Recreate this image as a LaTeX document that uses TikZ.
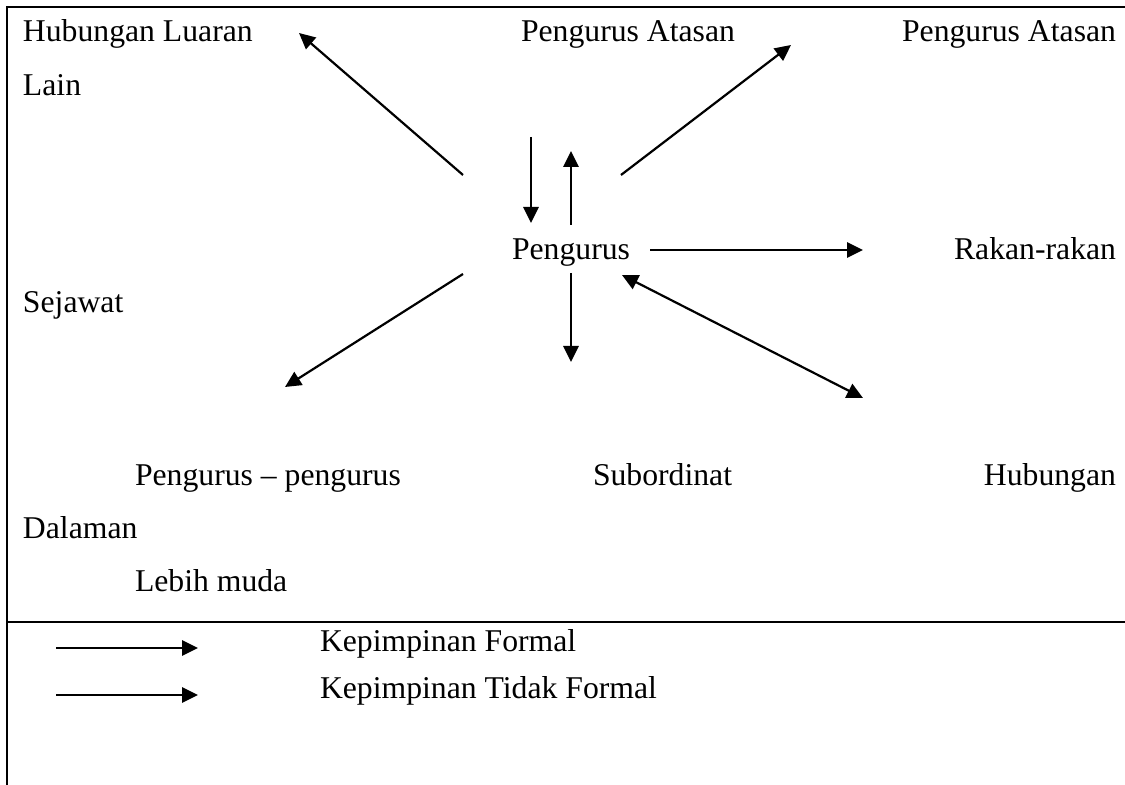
\documentclass[tikz,border=0pt]{standalone}
\usepackage{fontspec}
\setmainfont{Liberation Serif}
\usetikzlibrary{arrows.meta}
\tikzset{
  lbl/.style={anchor=base west, inner sep=0pt, outer sep=0pt, font=\fontsize{15.85}{19}\selectfont},
  lblr/.style={anchor=base east, inner sep=0pt, outer sep=0pt, font=\fontsize{15.85}{19}\selectfont},
  frame/.style={line width=1pt},
  arr/.style={line width=1.1pt, -{Triangle[length=8pt,width=7.6pt]}},
  darr/.style={line width=1.1pt, {Triangle[length=8pt,width=7.6pt]}-{Triangle[length=8pt,width=7.6pt]}}
}
\begin{document}
\begin{tikzpicture}[x=0.5pt,y=-0.5pt]
\useasboundingbox (0,0) rectangle (1125,785);
% frame
\coordinate (tl) at (7,7);
\coordinate (tr) at (1125,7);
\coordinate (bl) at (7,785);
\coordinate (ml) at (7,622);
\coordinate (mr) at (1125,622);
\draw[frame] (tr) -- (tl) -- (bl);
\draw[frame] (ml) -- (mr);
% texts
\node[lbl] (hl) at (23,42) {Hubungan Luaran};
\node[lbl] (lain) at (23,96) {Lain};
\node[lbl] (pa1) at (521,42) {Pengurus Atasan};
\node[lblr] (pa2) at (1116,42) {Pengurus Atasan};
\node[lbl] (p) at (512,260) {Pengurus};
\node[lblr] (rr) at (1116,260) {Rakan-rakan};
\node[lbl] (sej) at (23,313) {Sejawat};
\node[lbl] (pp) at (135,486) {Pengurus -- pengurus};
\node[lbl] (sub) at (593,486) {Subordinat};
\node[lblr] (hub) at (1116,486) {Hubungan};
\node[lbl] (dal) at (23,539) {Dalaman};
\node[lbl] (lm) at (135,592) {Lebih muda};
\node[lbl] (kf) at (320,652) {Kepimpinan Formal};
\node[lbl] (ktf) at (320,699) {Kepimpinan Tidak Formal};
% arrow endpoints
\coordinate (ulA) at (463,175); \coordinate (ulB) at (299,33);
\coordinate (urA) at (621,175); \coordinate (urB) at (791,45);
\coordinate (dA) at (531,137);  \coordinate (dB) at (531,223);
\coordinate (uA) at (571,225);  \coordinate (uB) at (571,151);
\coordinate (hA) at (650,250);  \coordinate (hB) at (863,250);
\coordinate (llA) at (463,274); \coordinate (llB) at (285,387);
\coordinate (sA) at (571,273);  \coordinate (sB) at (571,362);
\coordinate (drA) at (622,275); \coordinate (drB) at (863,398);
\coordinate (lg1A) at (56,648); \coordinate (lg1B) at (198,648);
\coordinate (lg2A) at (56,695); \coordinate (lg2B) at (198,695);
% arrows
\draw[arr] (ulA) -- (ulB);
\draw[arr] (urA) -- (urB);
\draw[arr] (dA) -- (dB);
\draw[arr] (uA) -- (uB);
\draw[arr] (hA) -- (hB);
\draw[arr] (llA) -- (llB);
\draw[arr] (sA) -- (sB);
\draw[darr] (drA) -- (drB);
\draw[arr] (lg1A) -- (lg1B);
\draw[arr] (lg2A) -- (lg2B);
\end{tikzpicture}
\end{document}
